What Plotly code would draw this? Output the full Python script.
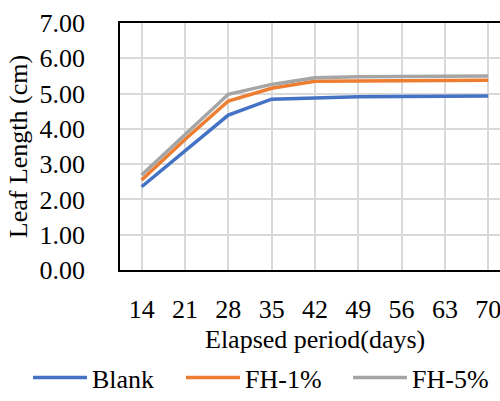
import plotly.graph_objects as go

days = [14, 21, 28, 35, 42, 49, 56, 63, 70]
blank = [2.36, 3.38, 4.39, 4.84, 4.88, 4.91, 4.92, 4.92, 4.93]
fh1 = [2.55, 3.70, 4.79, 5.15, 5.35, 5.36, 5.37, 5.37, 5.38]
fh5 = [2.69, 3.82, 4.98, 5.26, 5.45, 5.48, 5.49, 5.49, 5.50]
y_ticks = [0, 1, 2, 3, 4, 5, 6, 7]

series = [("Blank", blank, "#4472C4", "legend"),
          ("FH-1%", fh1, "#ED7D31", "legend2"),
          ("FH-5%", fh5, "#A5A5A5", "legend3")]

FONT = "Liberation Serif"
FS = 26

fig = go.Figure()
for name, vals, color, lg in series:
    fig.add_trace(go.Scatter(x=days, y=vals, mode="lines", name=name, legend=lg,
                             line=dict(color=color, width=3.5)))

def leg(x):
    return dict(orientation="h", xref="container", yref="container",
                x=x, y=0.0, xanchor="left", yanchor="bottom",
                font=dict(family=FONT, size=FS, color="black"),
                bgcolor="rgba(0,0,0,0)", itemwidth=54)

fig.update_layout(
    width=500, height=401,
    margin=dict(l=120, r=0, t=23, b=131),
    paper_bgcolor="white", plot_bgcolor="white",
    font=dict(family=FONT, size=FS, color="black"),
    showlegend=True,
    legend=leg(28 / 500), legend2=leg(181 / 500), legend3=leg(348 / 500),
    annotations=[dict(text="Elapsed period(days)", xref="paper", yref="paper",
                      x=0.513, y=-0.283, xanchor="center", yanchor="middle",
                      showarrow=False, font=dict(family=FONT, size=FS, color="black"))],
)
fig.update_xaxes(
    range=[10.5, 71.9], tickmode="array", tickvals=days, ticktext=[str(d) for d in days],
    tickfont=dict(family=FONT, size=FS, color="black"), ticklabeloverflow="allow",
    showgrid=True, gridcolor="#D9D9D9", gridwidth=1.5,
    showline=True, linecolor="black", linewidth=1.5, mirror=True,
    ticks="outside", ticklen=15, tickcolor="rgba(0,0,0,0)",
    zeroline=False,
)
fig.update_yaxes(
    range=[0, 7], tickmode="array", tickvals=y_ticks, ticktext=[f"{v:.2f}" for v in y_ticks],
    tickfont=dict(family=FONT, size=FS, color="black"),
    showgrid=True, gridcolor="#D9D9D9", gridwidth=1.5,
    showline=True, linecolor="black", linewidth=1.5, mirror=False,
    ticks="outside", ticklen=28, tickcolor="rgba(0,0,0,0)",
    title=dict(text="Leaf Length (cm)", standoff=4, font=dict(family=FONT, size=FS)),
    zeroline=False,
)

fig.write_html("out.html")
